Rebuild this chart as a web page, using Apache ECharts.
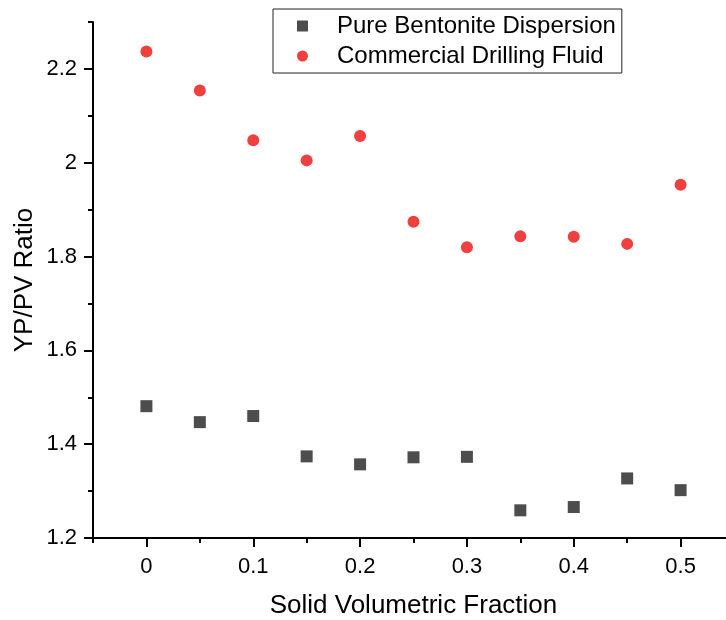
<!DOCTYPE html>
<html>
<head>
<meta charset="utf-8">
<script src="https://cdn.jsdelivr.net/npm/echarts@6/dist/echarts.min.js"></script>
<style>
html,body{margin:0;padding:0;background:#fff;}
#chart{width:726px;height:620px;}
</style>
</head>
<body>
<div id="chart"></div>
<script>
const fractions = [0, 0.05, 0.1, 0.15, 0.2, 0.25, 0.3, 0.35, 0.4, 0.45, 0.5];
const bentonite = [1.481, 1.447, 1.460, 1.374, 1.357, 1.372, 1.373, 1.259, 1.266, 1.327, 1.302];
const commercial = [2.237, 2.154, 2.048, 2.005, 2.057, 1.874, 1.820, 1.843, 1.842, 1.827, 1.953];
const seriesNames = ['Pure Bentonite Dispersion', 'Commercial Drilling Fluid'];
const xTickLabels = [0, 0.1, 0.2, 0.3, 0.4, 0.5];
const yTickLabels = [1.2, 1.4, 1.6, 1.8, 2.0, 2.2];

const FONT = "'Liberation Sans', Arial, sans-serif";
const chart = echarts.init(document.getElementById('chart'));

const baseX = {
  type: 'value', min: -0.05, max: 0.55, interval: 0.05,
  splitLine: {show: false}
};
const baseY = {
  type: 'value', min: 1.2, max: 2.3, interval: 0.1,
  splitLine: {show: false}
};

chart.setOption({
  animation: false,
  backgroundColor: '#fff',
  grid: {left: 93, top: 22, width: 641, bottom: 82, outerBoundsMode: 'none', containLabel: false},
  legend: {
    orient: 'vertical',
    left: 273, top: 9,
    padding: [4, 6, 4, 24],
    itemWidth: 11, itemHeight: 11, itemGap: 4,
    borderColor: '#222', borderWidth: 1,
    textStyle: {fontFamily: FONT, fontSize: 24, color: '#000', lineHeight: 26, padding: [0, 0, 0, 24]},
    data: seriesNames
  },
  xAxis: [
    Object.assign({}, baseX, {
      axisLine: {show: true, onZero: false, lineStyle: {color: '#000', width: 2}},
      axisTick: {show: true, length: 5, lineStyle: {color: '#000', width: 2}},
      axisLabel: {show: false},
      name: 'Solid Volumetric Fraction', nameLocation: 'middle', nameGap: 55,
      nameTextStyle: {fontFamily: FONT, fontSize: 26, color: '#000'}
    }),
    Object.assign({}, baseX, {
      position: 'bottom',
      axisLine: {show: false, onZero: false},
      axisTick: {show: true, length: 9, customValues: xTickLabels, lineStyle: {color: '#000', width: 2}},
      axisLabel: {show: true, customValues: xTickLabels, margin: 18, fontFamily: FONT, fontSize: 22, color: '#000'}
    })
  ],
  yAxis: [
    Object.assign({}, baseY, {
      axisLine: {show: true, onZero: false, lineStyle: {color: '#000', width: 2}},
      axisTick: {show: true, length: 5, lineStyle: {color: '#000', width: 2}},
      axisLabel: {show: false},
      name: 'YP/PV Ratio', nameLocation: 'middle', nameGap: 55,
      nameTextStyle: {fontFamily: FONT, fontSize: 26, color: '#000'}
    }),
    Object.assign({}, baseY, {
      position: 'left',
      axisLine: {show: false, onZero: false},
      axisTick: {show: true, length: 9, customValues: yTickLabels, lineStyle: {color: '#000', width: 2}},
      axisLabel: {show: true, customValues: yTickLabels, margin: 16, fontFamily: FONT, fontSize: 22, color: '#000',
        formatter: v => String(Math.round(v * 10) / 10)}
    })
  ],
  series: [
    {
      name: seriesNames[0], type: 'scatter', symbol: 'rect', symbolSize: 12,
      itemStyle: {color: '#4d4d4d', opacity: 1},
      data: fractions.map((x, i) => [x, bentonite[i]])
    },
    {
      name: seriesNames[1], type: 'scatter', symbol: 'circle', symbolSize: 12,
      itemStyle: {color: '#f03f3f', opacity: 1},
      data: fractions.map((x, i) => [x, commercial[i]])
    }
  ]
});
</script>
</body>
</html>
